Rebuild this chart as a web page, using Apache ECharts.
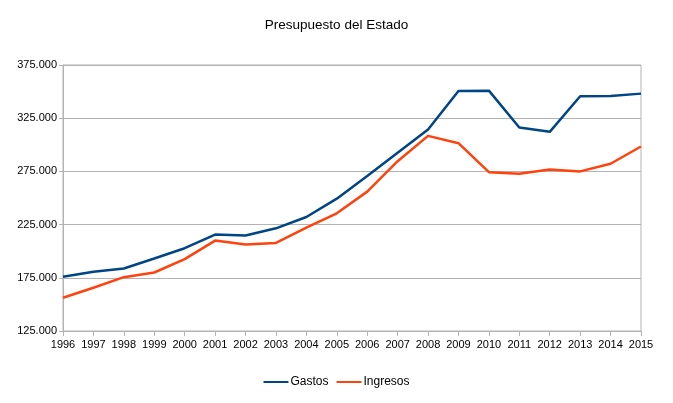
<!DOCTYPE html>
<html>
<head>
<meta charset="utf-8">
<script src="https://cdn.jsdelivr.net/npm/echarts@6/dist/echarts.min.js"></script>
<style>html,body{margin:0;padding:0;background:#fff}#c{width:673px;height:403px}</style>
</head>
<body>
<div id="c"></div>
<script>
const years = ['1996','1997','1998','1999','2000','2001','2002','2003','2004','2005','2006','2007','2008','2009','2010','2011','2012','2013','2014','2015'];
const gastos = [176000,180600,183700,193100,202800,215600,214700,221500,232100,249400,270600,292500,314300,350600,350900,316200,312200,345600,345900,348100];
const ingresos = [156200,165600,175600,180000,192500,210000,206300,207800,222200,235600,256000,284600,308400,301500,274300,272800,276800,275000,282200,298400];
const yTicks = {min:125000, max:375000, interval:50000};

const fmt = v => String(v).replace(/\B(?=(\d{3})+(?!\d))/g, '.');
const chart = echarts.init(document.getElementById('c'));
const font = 'Liberation Sans, Arial, sans-serif';
chart.setOption({
  animation:false,
  title:{text:'Presupuesto del Estado',left:'center',top:13,textStyle:{fontFamily:font,fontSize:13.5,fontWeight:'normal',color:'#000'}},
  legend:{bottom:10,left:'center',itemWidth:25,itemHeight:2,itemGap:8,icon:'rect',
    textStyle:{fontFamily:font,fontSize:12,color:'#000',padding:[0,0,0,-3]},
    data:['Gastos','Ingresos']},
  grid:{left:63,right:32,top:65,bottom:72,show:true,borderColor:'#b3b3b3',borderWidth:1},
  xAxis:{type:'category',boundaryGap:false,data:years,
    axisLine:{lineStyle:{color:'#b3b3b3'}},
    axisTick:{show:true,length:5,lineStyle:{color:'#b3b3b3'}},
    axisLabel:{fontFamily:font,fontSize:11,color:'#000',margin:8,interval:0},
    splitLine:{show:false}},
  yAxis:{type:'value',min:yTicks.min,max:yTicks.max,interval:yTicks.interval,
    axisLine:{show:true,lineStyle:{color:'#b3b3b3'}},
    axisTick:{show:true,length:4,lineStyle:{color:'#b3b3b3'}},
    axisLabel:{fontFamily:font,fontSize:11,color:'#000',margin:6,formatter:fmt},
    splitLine:{lineStyle:{color:'#b3b3b3'}}},
  series:[
    {name:'Gastos',type:'line',data:gastos,symbol:'none',lineStyle:{width:2.5,color:'#004586'},itemStyle:{color:'#004586'}},
    {name:'Ingresos',type:'line',data:ingresos,symbol:'none',lineStyle:{width:2.5,color:'#ff420e'},itemStyle:{color:'#ff420e'}}
  ]
});
</script>
</body>
</html>
